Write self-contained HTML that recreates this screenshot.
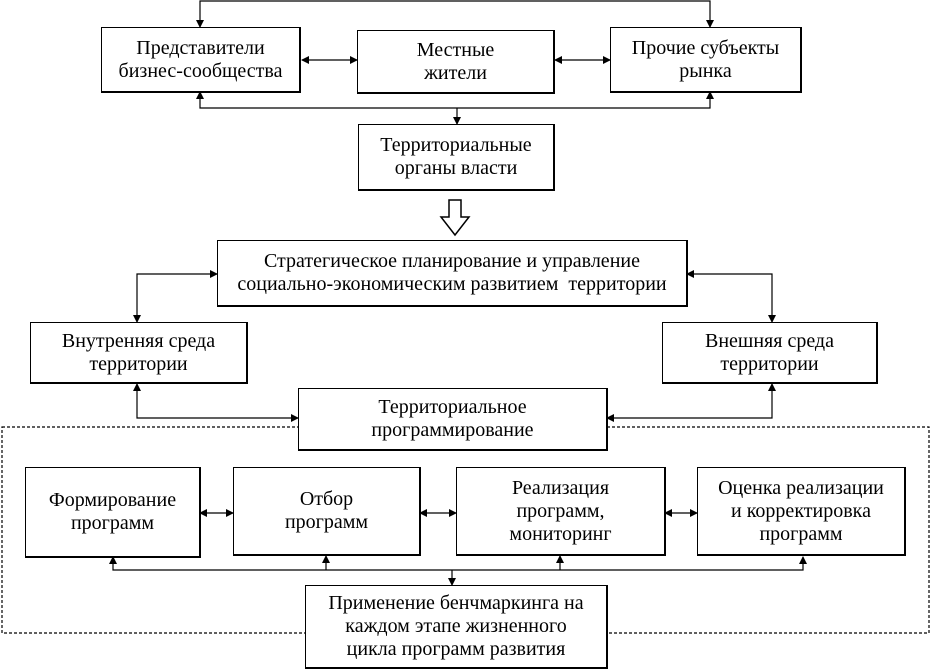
<!DOCTYPE html>
<html><head><meta charset="utf-8"><style>
body{margin:0;background:#fff;width:932px;height:670px;position:relative;overflow:hidden;font-family:"Liberation Serif",serif;}
.b{position:absolute;box-sizing:border-box;border:1px solid #000;border-right-width:2px;border-bottom-width:2px;display:flex;align-items:center;justify-content:center;text-align:center;font-size:20px;line-height:23px;background:#fff;white-space:nowrap;}
svg{position:absolute;left:0;top:0;}
</style></head><body>
<svg width="932" height="670">
<defs><marker id="a" markerWidth="8" markerHeight="8" refX="7" refY="4" orient="auto" markerUnits="userSpaceOnUse"><path d="M0,0L8,4L0,8z" fill="#000"/></marker>
<marker id="s" markerWidth="8" markerHeight="8" refX="1" refY="4" orient="auto" markerUnits="userSpaceOnUse"><path d="M8,0L0,4L8,8z" fill="#000"/></marker></defs>
<g stroke="#000" stroke-width="1.2" fill="none">
<path d="M200,27V1H710V27" marker-start="url(#s)" marker-end="url(#a)"/>
<path d="M200,92V108H710V92" marker-start="url(#s)" marker-end="url(#a)"/>
<path d="M457,108V124" marker-end="url(#a)"/>
<path d="M302,60H357" marker-start="url(#s)" marker-end="url(#a)"/>
<path d="M555,60H610" marker-start="url(#s)" marker-end="url(#a)"/>
<path d="M217,274H137V322" marker-start="url(#s)" marker-end="url(#a)"/>
<path d="M687,274H772V322" marker-start="url(#s)" marker-end="url(#a)"/>
<path d="M137,384V418H298" marker-start="url(#s)" marker-end="url(#a)"/>
<path d="M772,384V418H607" marker-start="url(#s)" marker-end="url(#a)"/>
<path d="M200,513H233" marker-start="url(#s)" marker-end="url(#a)"/>
<path d="M420,513H456" marker-start="url(#s)" marker-end="url(#a)"/>
<path d="M665,513H697" marker-start="url(#s)" marker-end="url(#a)"/>
<path d="M113,557V570H803V557" marker-start="url(#s)" marker-end="url(#a)"/>
<path d="M326,570V556" marker-end="url(#a)"/>
<path d="M560,570V556" marker-end="url(#a)"/>
<path d="M452,570V585" marker-end="url(#a)"/>
<rect x="2" y="427" width="927" height="206" stroke-dasharray="3,2"/>
<path d="M449,200H461V217H469L455,235L441,217H449Z" stroke-width="1.5"/>
</g></svg>
<div class="b" style="left:101px;top:27px;width:200px;height:66px">Представители<br>бизнес-сообщества</div>
<div class="b" style="left:357px;top:30px;width:198px;height:64px">Местные<br>жители</div>
<div class="b" style="left:610px;top:27px;width:192px;height:66px">Прочие субъекты<br>рынка</div>
<div class="b" style="left:358px;top:124px;width:197px;height:67px">Территориальные<br>органы власти</div>
<div class="b" style="left:217px;top:240px;width:471px;height:67px">Стратегическое планирование и управление<br>социально-экономическим развитием&nbsp; территории</div>
<div class="b" style="left:30px;top:322px;width:218px;height:62px">Внутренняя среда<br>территории</div>
<div class="b" style="left:662px;top:322px;width:216px;height:62px">Внешняя среда<br>территории</div>
<div class="b" style="left:298px;top:388px;width:310px;height:63px">Территориальное<br>программирование</div>
<div class="b" style="left:25px;top:467px;width:176px;height:91px">Формирование<br>программ</div>
<div class="b" style="left:233px;top:467px;width:188px;height:89px">Отбор<br>программ</div>
<div class="b" style="left:456px;top:467px;width:210px;height:89px">Реализация<br>программ,<br>мониторинг</div>
<div class="b" style="left:697px;top:467px;width:209px;height:89px">Оценка реализации<br>и корректировка<br>программ</div>
<div class="b" style="left:305px;top:585px;width:303px;height:84px">Применение бенчмаркинга на<br>каждом этапе жизненного<br>цикла программ развития</div>
</body></html>
